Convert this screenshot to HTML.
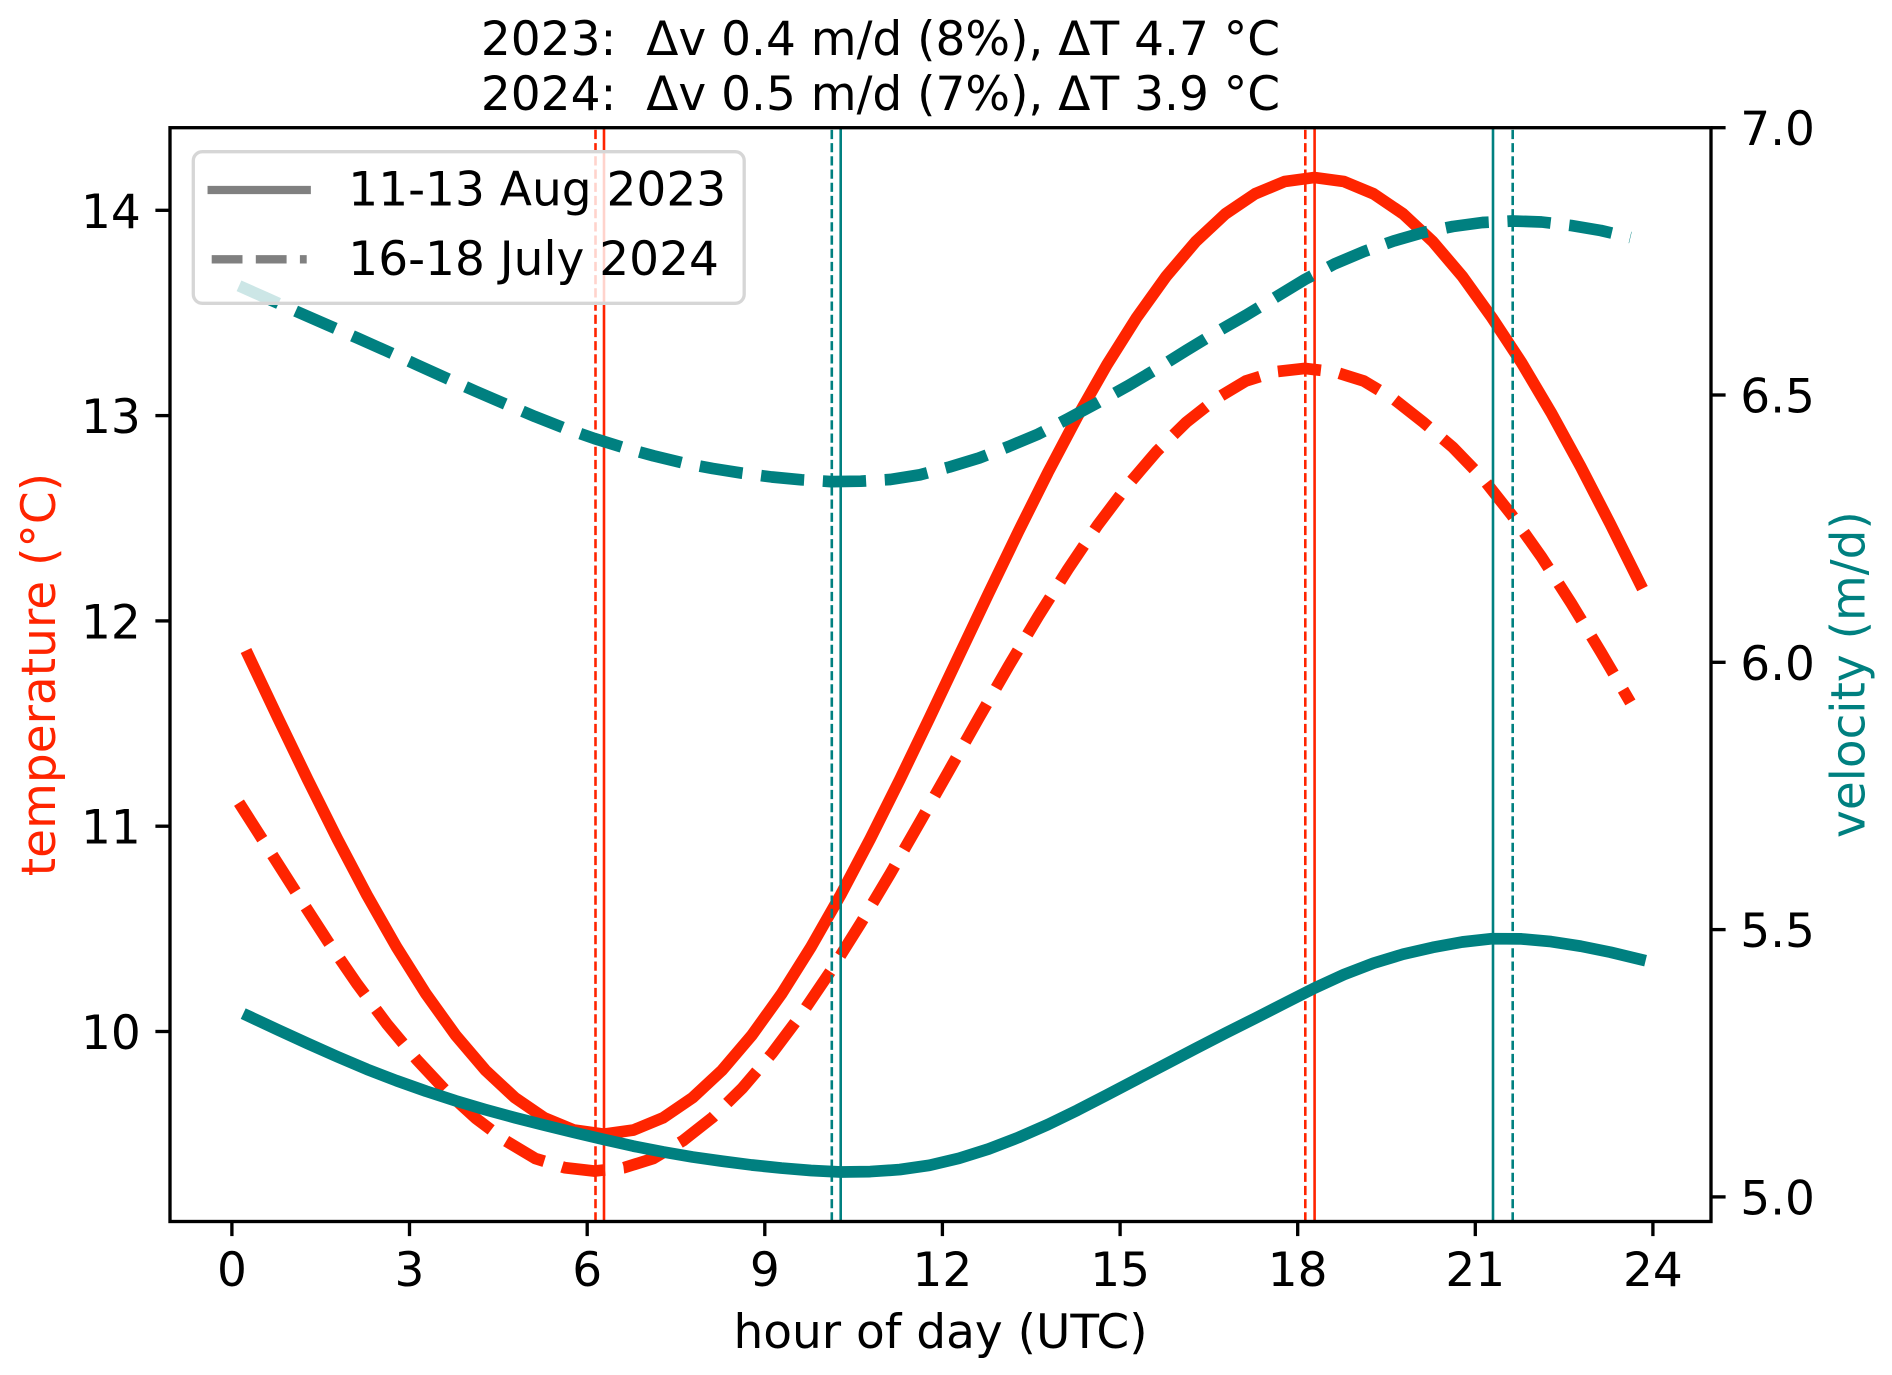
<!DOCTYPE html>
<html>
<head>
<meta charset="utf-8">
<style>
  html, body { margin: 0; padding: 0; background: #ffffff; }
  svg { display: block; }
  text { font-family: "DejaVu Sans", "Liberation Sans", sans-serif; font-size: 47px; fill: #000; }
</style>
</head>
<body>
<svg width="1892" height="1375" viewBox="0 0 1892 1375" xmlns="http://www.w3.org/2000/svg">
  <rect x="0" y="0" width="1892" height="1375" fill="#ffffff"/>

  <!-- Title -->
  <text x="880.5" y="55" text-anchor="middle">2023:&#160; Δv 0.4 m/d (8%), ΔT 4.7 °C</text>
  <text x="880.5" y="110" text-anchor="middle">2024:&#160; Δv 0.5 m/d (7%), ΔT 3.9 °C</text>

  <!-- Temperature curves -->
  <path fill="none" stroke="#ff2400" stroke-width="11.7" stroke-linejoin="round" stroke-linecap="square"
    d="M248.5,655.8 L278.1,718.2 L307.7,779.6 L337.3,838.9 L366.9,895.0 L396.5,947.0 L426.1,994.1 L455.7,1035.3 L485.3,1070.1 L514.9,1097.7 L544.5,1117.9 L574.1,1130.1 L603.7,1134.2 L633.3,1130.1 L662.9,1117.9 L692.6,1097.7 L722.2,1070.1 L751.8,1035.3 L781.4,994.1 L811.0,947.0 L840.6,895.0 L870.2,838.9 L899.8,779.6 L929.4,718.2 L959.0,655.8 L988.6,593.4 L1018.2,532.0 L1047.8,472.7 L1077.4,416.6 L1107.0,364.6 L1136.6,317.6 L1166.2,276.3 L1195.8,241.5 L1225.4,213.9 L1255.1,193.8 L1284.7,181.5 L1314.3,177.5 L1343.9,181.5 L1373.5,193.8 L1403.1,213.9 L1432.7,241.5 L1462.3,276.3 L1491.9,317.6 L1521.5,362.6 L1551.1,412.6 L1580.7,466.7 L1610.3,524.0 L1639.9,583.4"/>
  <path fill="none" stroke="#ff2400" stroke-width="11.7" stroke-linejoin="round" stroke-linecap="butt" stroke-dasharray="43.3 18.7"
    d="M239.0,802.7 L268.6,849.1 L298.2,895.6 L327.8,941.3 L357.4,984.4 L387.0,1024.1 L416.6,1059.5 L446.2,1091.2 L475.8,1118.3 L505.4,1140.6 L535.1,1158.4 L564.7,1167.7 L594.3,1171.1 L623.9,1167.7 L653.5,1158.4 L683.1,1140.6 L712.7,1117.3 L742.3,1088.2 L771.9,1053.5 L801.5,1014.1 L831.1,970.4 L860.7,923.3 L890.3,873.6 L919.9,822.1 L949.5,769.7 L979.1,717.4 L1008.7,665.9 L1038.3,616.2 L1068.0,569.1 L1097.5,525.4 L1127.2,485.9 L1156.8,451.3 L1186.4,422.2 L1216.0,398.9 L1245.6,381.1 L1275.2,371.8 L1304.8,368.4 L1334.4,371.8 L1364.0,381.1 L1393.6,398.9 L1423.2,422.2 L1452.8,447.3 L1482.4,477.9 L1512.0,515.4 L1541.6,557.1 L1571.2,603.2 L1600.8,651.9 L1630.4,702.4"/>

  <!-- Temperature vertical markers -->
  <line x1="604.0" y1="1221.5" x2="604.0" y2="127.7" stroke="#ff2400" stroke-width="2.6"/>
  <line x1="1314.6" y1="1221.5" x2="1314.6" y2="127.7" stroke="#ff2400" stroke-width="2.6"/>
  <line x1="595.5" y1="1221.5" x2="595.5" y2="127.7" stroke="#ff2400" stroke-width="2.6" stroke-dasharray="9.2 4"/>
  <line x1="1305.3" y1="1221.5" x2="1305.3" y2="127.7" stroke="#ff2400" stroke-width="2.6" stroke-dasharray="9.2 4"/>

  <!-- Velocity curves -->
  <path fill="none" stroke="#008080" stroke-width="11.7" stroke-linejoin="round" stroke-linecap="square"
    d="M248.5,1016.1 L278.1,1029.9 L307.7,1043.5 L337.3,1056.7 L366.9,1069.3 L396.5,1080.7 L426.1,1091.2 L455.7,1100.8 L485.3,1109.6 L514.9,1117.7 L544.5,1125.2 L574.1,1132.5 L603.7,1139.4 L633.3,1146.1 L662.9,1151.9 L692.6,1157.0 L722.2,1161.2 L751.8,1165.0 L781.4,1168.1 L811.0,1170.5 L840.6,1172.0 L870.2,1171.6 L899.8,1169.6 L929.4,1165.3 L959.0,1158.3 L988.6,1149.0 L1018.2,1137.6 L1047.8,1124.6 L1077.4,1110.2 L1107.0,1094.9 L1136.6,1079.4 L1166.2,1063.9 L1195.8,1048.4 L1225.4,1033.2 L1255.1,1018.3 L1284.7,1003.2 L1314.3,988.2 L1343.9,974.6 L1373.5,963.2 L1403.1,954.2 L1432.7,947.4 L1462.3,942.0 L1491.9,938.7 L1521.5,938.9 L1551.1,941.6 L1580.7,946.2 L1610.3,952.2 L1639.9,959.3"/>
  <path fill="none" stroke="#008080" stroke-width="11.7" stroke-linejoin="round" stroke-linecap="butt" stroke-dasharray="43.3 18.7"
    d="M239.0,285.8 L268.6,299.0 L298.2,312.2 L327.8,325.1 L357.4,338.0 L387.0,351.2 L416.6,364.7 L446.2,378.1 L475.8,391.3 L505.4,404.0 L535.1,416.6 L564.7,428.2 L594.3,438.5 L623.9,447.7 L653.5,455.8 L683.1,463.0 L712.7,468.5 L742.3,473.2 L771.9,477.0 L801.5,479.8 L831.1,481.6 L860.7,481.2 L890.3,479.5 L919.9,474.8 L949.5,467.0 L979.1,458.0 L1008.7,446.5 L1038.3,434.1 L1068.0,418.7 L1097.5,402.8 L1127.2,386.3 L1156.8,368.8 L1186.4,350.4 L1216.0,332.4 L1245.6,315.5 L1275.2,297.5 L1304.8,279.5 L1334.4,264.0 L1364.0,251.5 L1393.6,241.0 L1423.2,232.5 L1452.8,226.5 L1482.4,222.5 L1512.0,221.0 L1541.6,222.0 L1571.2,225.5 L1600.8,230.5 L1630.4,237.5"/>

  <!-- Velocity vertical markers -->
  <line x1="840.7" y1="1221.5" x2="840.7" y2="127.7" stroke="#008080" stroke-width="2.6"/>
  <line x1="1493.0" y1="1221.5" x2="1493.0" y2="127.7" stroke="#008080" stroke-width="2.6"/>
  <line x1="831.8" y1="1221.5" x2="831.8" y2="127.7" stroke="#008080" stroke-width="2.6" stroke-dasharray="9.2 4"/>
  <line x1="1512.7" y1="1221.5" x2="1512.7" y2="127.7" stroke="#008080" stroke-width="2.6" stroke-dasharray="9.2 4"/>

  <!-- Axes frame -->
  <rect x="170" y="127.7" width="1541" height="1093.8" fill="none" stroke="#000" stroke-width="3.33" stroke-linejoin="miter"/>

  <!-- Ticks -->
  <g stroke="#000" stroke-width="3.33">
    <line x1="231.9" y1="1221.5" x2="231.9" y2="1236.1"/>
    <line x1="409.5" y1="1221.5" x2="409.5" y2="1236.1"/>
    <line x1="587.2" y1="1221.5" x2="587.2" y2="1236.1"/>
    <line x1="764.8" y1="1221.5" x2="764.8" y2="1236.1"/>
    <line x1="942.4" y1="1221.5" x2="942.4" y2="1236.1"/>
    <line x1="1120.1" y1="1221.5" x2="1120.1" y2="1236.1"/>
    <line x1="1297.7" y1="1221.5" x2="1297.7" y2="1236.1"/>
    <line x1="1475.3" y1="1221.5" x2="1475.3" y2="1236.1"/>
    <line x1="1652.9" y1="1221.5" x2="1652.9" y2="1236.1"/>
    <line x1="155.4" y1="1031.5" x2="170" y2="1031.5"/>
    <line x1="155.4" y1="826.2" x2="170" y2="826.2"/>
    <line x1="155.4" y1="620.9" x2="170" y2="620.9"/>
    <line x1="155.4" y1="415.6" x2="170" y2="415.6"/>
    <line x1="155.4" y1="210.3" x2="170" y2="210.3"/>
    <line x1="1711" y1="1196.9" x2="1725.6" y2="1196.9"/>
    <line x1="1711" y1="929.6" x2="1725.6" y2="929.6"/>
    <line x1="1711" y1="662.3" x2="1725.6" y2="662.3"/>
    <line x1="1711" y1="395.0" x2="1725.6" y2="395.0"/>
    <line x1="1711" y1="127.7" x2="1725.6" y2="127.7"/>
  </g>

  <!-- X tick labels -->
  <g text-anchor="middle">
    <text x="231.9" y="1286">0</text>
    <text x="409.5" y="1286">3</text>
    <text x="587.2" y="1286">6</text>
    <text x="764.8" y="1286">9</text>
    <text x="942.4" y="1286">12</text>
    <text x="1120.1" y="1286">15</text>
    <text x="1297.7" y="1286">18</text>
    <text x="1475.3" y="1286">21</text>
    <text x="1652.9" y="1286">24</text>
  </g>
  <text x="940.5" y="1348" text-anchor="middle">hour of day (UTC)</text>

  <!-- Left tick labels -->
  <g text-anchor="end">
    <text x="140.8" y="1049">10</text>
    <text x="140.8" y="843.7">11</text>
    <text x="140.8" y="638.4">12</text>
    <text x="140.8" y="433.1">13</text>
    <text x="140.8" y="227.8">14</text>
  </g>
  <!-- Right tick labels -->
  <g text-anchor="start">
    <text x="1740.2" y="1214.4">5.0</text>
    <text x="1740.2" y="947.1">5.5</text>
    <text x="1740.2" y="679.8">6.0</text>
    <text x="1740.2" y="412.5">6.5</text>
    <text x="1740.2" y="145.2">7.0</text>
  </g>

  <!-- Axis labels -->
  <text transform="translate(55,674.6) rotate(-90)" text-anchor="middle" style="fill:#ff2400">temperature (°C)</text>
  <text transform="translate(1864.6,674.6) rotate(-90)" text-anchor="middle" style="fill:#008080">velocity (m/d)</text>

  <!-- Legend -->
  <rect x="193.3" y="151.7" width="550.9" height="151.6" rx="9" ry="9" fill="#ffffff" fill-opacity="0.8" stroke="#d6d6d6" stroke-width="3.3"/>
  <line x1="211.7" y1="190" x2="306.7" y2="190" stroke="#808080" stroke-width="8.33" stroke-linecap="square"/>
  <line x1="211.7" y1="259.3" x2="306.7" y2="259.3" stroke="#808080" stroke-width="8.33" stroke-linecap="butt" stroke-dasharray="30.8 13.3"/>
  <text x="348.3" y="205.7">11-13 Aug 2023</text>
  <text x="348.3" y="275.1">16-18 July 2024</text>
</svg>
</body>
</html>
